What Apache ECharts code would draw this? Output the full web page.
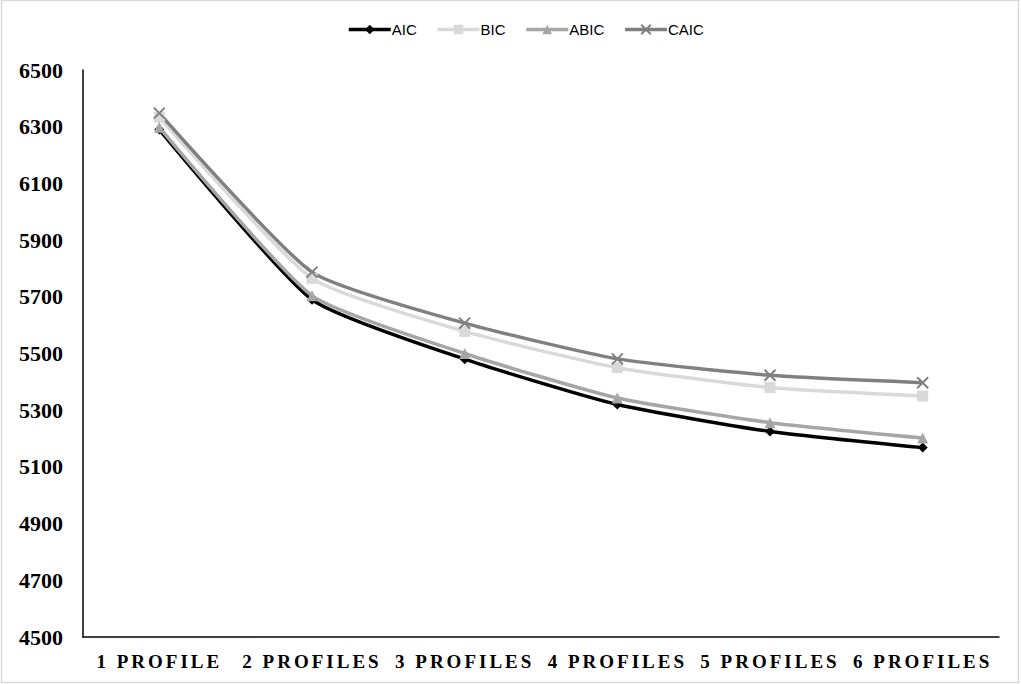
<!DOCTYPE html>
<html><head><meta charset="utf-8">
<script src="https://cdn.jsdelivr.net/npm/echarts@6/dist/echarts.min.js"></script>
<style>
html,body{margin:0;padding:0;background:#fff;}
#c{width:1021px;height:684px;}
text[style*="19px"]{letter-spacing:3px;}
</style>
</head><body><div id="c"></div>
<script>
const categories = ['1 PROFILE','2 PROFILES','3 PROFILES','4 PROFILES','5 PROFILES','6 PROFILES'];
const aic  = [6290, 5690, 5480, 5320, 5225, 5168];
const bic  = [6334, 5765, 5578, 5450, 5380, 5350];
const abic = [6298, 5704, 5500, 5343, 5256, 5202];
const caic = [6348, 5787, 5607, 5481, 5423, 5397];
const yTicks = {min: 4500, max: 6500, interval: 200};

const chart = echarts.init(document.getElementById('c'), null, {renderer:'svg'});
const xSym = 'path://M0,0L10,10M10,0L0,10';
function mk(name, data, color, symbol, size, extra){
  return Object.assign({
    name, type:'line', data, smooth:0.18, symbol, symbolSize:size,
    lineStyle:{color, width:3.5},
    itemStyle:{color},
    emphasis:{disabled:true}
  }, extra||{});
}
chart.setOption({
  animation:false,
  graphic:[{type:'rect', shape:{x:1.5,y:0.5,width:1017,height:682}, style:{fill:'none', stroke:'#d9d9d9', lineWidth:1.5}, silent:true}],
  legend:{
    top:17, left:342, itemWidth:42, itemHeight:12, itemGap:19,
    lineStyle:{width:3.5},
    textStyle:{fontFamily:'Liberation Sans', fontSize:15, color:'#000', padding:[0,0,0,-4]},
    data:['AIC','BIC','ABIC','CAIC']
  },
  grid:{left:83, top:70, right:22, bottom:47},
  xAxis:{
    type:'category', data:categories, boundaryGap:true,
    axisLine:{lineStyle:{color:'#000', width:1.5}},
    axisTick:{show:false},
    axisLabel:{fontFamily:'Liberation Serif', fontWeight:'bold', fontSize:19, color:'#000', margin:15, interval:0}
  },
  yAxis:{
    type:'value', min:yTicks.min, max:yTicks.max, interval:yTicks.interval,
    axisLine:{show:true, lineStyle:{color:'#000', width:1.5}},
    axisTick:{show:false},
    splitLine:{show:false},
    axisLabel:{fontFamily:'Liberation Serif', fontWeight:'bold', fontSize:22, color:'#000', margin:20, formatter:v=>String(v)}
  },
  series:[
    mk('AIC', aic, '#000000', 'diamond', 10),
    mk('BIC', bic, '#d9d9d9', 'rect', 11),
    mk('ABIC', abic, '#a6a6a6', 'triangle', 11),
    mk('CAIC', caic, '#808080', xSym, 11, {itemStyle:{color:'#808080', borderColor:'#808080', borderWidth:2}})
  ]
});
</script></body></html>
